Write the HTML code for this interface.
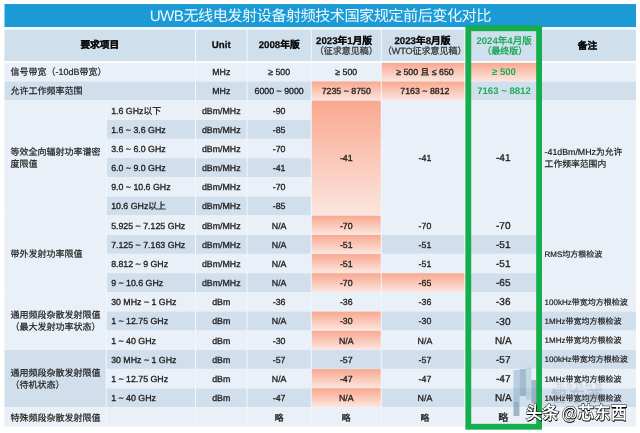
<!DOCTYPE html>
<html lang="zh-CN"><head><meta charset="utf-8"><title>UWB</title>
<style>
html,body{margin:0;padding:0;}
body{width:640px;height:433px;background:#fff;overflow:hidden;position:relative;
 font-family:"Liberation Sans",sans-serif;color:#1c1c1c;text-rendering:geometricPrecision;}
#w{position:absolute;left:0;top:0;width:640px;height:433px;overflow:hidden;filter:blur(0.35px);}
svg{position:absolute;left:0;top:0;}
#t{position:absolute;left:4.5px;top:4px;width:631.5px;height:23.2px;color:#eafaff;
 font-size:15.2px;letter-spacing:-0.55px;line-height:23px;text-align:center;white-space:nowrap;}
#t span{position:relative;left:0px;top:1.4px;}
.c{position:absolute;display:flex;align-items:center;justify-content:center;text-align:center;
 font-size:8.8px;line-height:12px;white-space:nowrap;box-sizing:border-box;overflow:hidden;
 -webkit-text-stroke:0.3px currentColor;}
.c span{position:relative;top:0.45px;}
.c.r12 span{top:-0.4px;}
.c.m span{top:0px;}
.c.h span{top:0.5px;}
.c.l{justify-content:flex-start;text-align:left;padding-left:6px;font-size:9px;-webkit-text-stroke:0.2px currentColor;}
.c.l2{justify-content:flex-start;text-align:left;padding-left:4.4px;}
.c.n{justify-content:flex-start;text-align:left;padding-left:2.6px;font-size:8px;-webkit-text-stroke:0.2px currentColor;}
.c.n1{font-size:8.8px;}
.c.n span{top:1.0px;}
.c.n.m span{top:1.0px;}
.c.n.n1.m span{top:0px;}
.c.b{font-size:10px;}
.c.b span{top:1.5px;left:-1.5px;}
.c.b.m span{top:0.6px;}
.c.au span{left:0.3px;}
.c.h{font-weight:bold;font-size:9.7px;line-height:11px;color:#0c0c0c;-webkit-text-stroke:0.25px currentColor;}
.c.h i{font-style:normal;font-weight:normal;font-size:9px;color:#3a3a3a;-webkit-text-stroke:0.3px currentColor;position:relative;top:0.3px;}
.c.h b.f{position:relative;left:-2.2px;top:0.8px;}
.c.h b.f2{position:relative;left:-0.6px;top:1.0px;}
.c.g{color:#1dac5b;font-weight:bold;font-size:9.6px;-webkit-text-stroke:0;}
.c.h.g i{color:#1aa957;font-weight:bold;-webkit-text-stroke:0;}
.c.g.r12 span{top:0.7px;left:-0.8px;}
.c.r19 span{top:1.3px;}
.c.b.r19 span{top:2.2px;}
.c.h.nt span{left:-1.5px;top:1.2px;}
#wm{position:absolute;left:526.3px;top:401.1px;word-spacing:-2.2px;letter-spacing:0.35px;font-size:16.4px;line-height:24px;color:#fff;white-space:nowrap;font-weight:bold;
 -webkit-text-stroke:1.0px #1a1a1a;paint-order:stroke fill;text-shadow:0.6px 0.7px 0.3px #000;transform:scale(0.985,1.07);transform-origin:0 0;}
#lt1{position:absolute;left:556px;top:381px;font-size:8px;line-height:9px;color:rgba(90,110,130,0.28);letter-spacing:1.6px;white-space:nowrap;}
#lt2{position:absolute;left:551px;top:389px;font-size:16px;line-height:18px;color:rgba(90,110,130,0.25);font-weight:bold;white-space:nowrap;letter-spacing:2px;}
</style></head>
<body>
<div id="w">
<svg width="640" height="433" viewBox="0 0 640 433">
<defs>
<linearGradient id="rg" x1="0" y1="0" x2="0" y2="1"><stop offset="0" stop-color="#f9a88f"/><stop offset="1" stop-color="#fce6e0"/></linearGradient>
<filter id="bl" x="-2%" y="-2%" width="104%" height="104%"><feGaussianBlur stdDeviation="0.5"/></filter>
</defs>
<g filter="url(#bl)">
<rect x="4.5" y="4.05" width="631.5" height="23.15" fill="#1b9ad6"/>
<rect x="4.5" y="27.2" width="631.5" height="2.6" fill="#f4fcff"/>
<rect x="4.5" y="29.8" width="631.5" height="396.5" fill="#f3f7fb"/>
<rect x="4.5" y="60.9" width="631.5" height="2.1" fill="#fafdff"/>
<rect x="4.50" y="29.80" width="190.50" height="31.16" fill="#cfdfec"/>
<rect x="196.00" y="29.80" width="50.50" height="31.16" fill="#cfdfec"/>
<rect x="247.50" y="29.80" width="63.25" height="31.16" fill="#cfdfec"/>
<rect x="311.75" y="29.80" width="69.00" height="31.16" fill="#cfdfec"/>
<rect x="381.75" y="29.80" width="85.75" height="31.16" fill="#cfdfec"/>
<rect x="468.50" y="29.80" width="72.50" height="31.16" fill="#cfdfec"/>
<rect x="542.00" y="29.80" width="94.00" height="31.16" fill="#cfdfec"/>
<rect x="4.50" y="62.91" width="190.50" height="18.27" fill="#e9f0f7"/>
<rect x="196.00" y="62.91" width="50.50" height="18.27" fill="#e9f0f7"/>
<rect x="247.50" y="62.91" width="63.25" height="18.27" fill="#e9f0f7"/>
<rect x="311.75" y="62.91" width="69.00" height="18.27" fill="#e9f0f7"/>
<rect x="381.75" y="62.91" width="85.75" height="18.27" fill="url(#rg)"/>
<rect x="468.50" y="62.91" width="72.50" height="18.27" fill="url(#rg)"/>
<rect x="542.00" y="62.91" width="94.00" height="18.27" fill="#e9f0f7"/>
<rect x="4.50" y="81.48" width="190.50" height="18.87" fill="#d1dfed"/>
<rect x="196.00" y="81.48" width="50.50" height="18.87" fill="#d1dfed"/>
<rect x="247.50" y="81.48" width="63.25" height="18.87" fill="#d1dfed"/>
<rect x="311.75" y="81.48" width="69.00" height="18.87" fill="url(#rg)"/>
<rect x="381.75" y="81.48" width="85.75" height="18.87" fill="url(#rg)"/>
<rect x="468.50" y="81.48" width="72.50" height="18.87" fill="#d1dfed"/>
<rect x="542.00" y="81.48" width="94.00" height="18.87" fill="#d1dfed"/>
<rect x="4.50" y="100.66" width="101.25" height="114.75" fill="#e9f0f7"/>
<rect x="106.75" y="100.66" width="88.25" height="18.88" fill="#e9f0f7"/>
<rect x="196.00" y="100.66" width="50.50" height="18.88" fill="#e9f0f7"/>
<rect x="247.50" y="100.66" width="63.25" height="18.88" fill="#e9f0f7"/>
<rect x="106.75" y="119.84" width="88.25" height="18.88" fill="#d1dfed"/>
<rect x="196.00" y="119.84" width="50.50" height="18.88" fill="#d1dfed"/>
<rect x="247.50" y="119.84" width="63.25" height="18.88" fill="#d1dfed"/>
<rect x="106.75" y="139.01" width="88.25" height="18.87" fill="#e9f0f7"/>
<rect x="196.00" y="139.01" width="50.50" height="18.87" fill="#e9f0f7"/>
<rect x="247.50" y="139.01" width="63.25" height="18.87" fill="#e9f0f7"/>
<rect x="106.75" y="158.19" width="88.25" height="18.88" fill="#d1dfed"/>
<rect x="196.00" y="158.19" width="50.50" height="18.88" fill="#d1dfed"/>
<rect x="247.50" y="158.19" width="63.25" height="18.88" fill="#d1dfed"/>
<rect x="106.75" y="177.36" width="88.25" height="18.87" fill="#e9f0f7"/>
<rect x="196.00" y="177.36" width="50.50" height="18.87" fill="#e9f0f7"/>
<rect x="247.50" y="177.36" width="63.25" height="18.87" fill="#e9f0f7"/>
<rect x="106.75" y="196.53" width="88.25" height="18.88" fill="#d1dfed"/>
<rect x="196.00" y="196.53" width="50.50" height="18.88" fill="#d1dfed"/>
<rect x="247.50" y="196.53" width="63.25" height="18.88" fill="#d1dfed"/>
<rect x="311.75" y="100.66" width="69.00" height="114.75" fill="url(#rg)"/>
<rect x="381.75" y="100.66" width="85.75" height="114.75" fill="#e9f0f7"/>
<rect x="468.50" y="100.66" width="72.50" height="114.75" fill="#e9f0f7"/>
<rect x="542.00" y="100.66" width="94.00" height="114.75" fill="#e9f0f7"/>
<rect x="4.50" y="215.71" width="101.25" height="76.40" fill="#e9f0f7"/>
<rect x="106.75" y="215.71" width="88.25" height="18.88" fill="#e9f0f7"/>
<rect x="196.00" y="215.71" width="50.50" height="18.88" fill="#e9f0f7"/>
<rect x="247.50" y="215.71" width="63.25" height="18.88" fill="#e9f0f7"/>
<rect x="311.75" y="215.71" width="69.00" height="18.88" fill="url(#rg)"/>
<rect x="381.75" y="215.71" width="85.75" height="18.88" fill="#e9f0f7"/>
<rect x="468.50" y="215.71" width="72.50" height="18.88" fill="#e9f0f7"/>
<rect x="106.75" y="234.89" width="88.25" height="18.87" fill="#d1dfed"/>
<rect x="196.00" y="234.89" width="50.50" height="18.87" fill="#d1dfed"/>
<rect x="247.50" y="234.89" width="63.25" height="18.87" fill="#d1dfed"/>
<rect x="311.75" y="234.89" width="69.00" height="18.87" fill="url(#rg)"/>
<rect x="381.75" y="234.89" width="85.75" height="18.87" fill="#d1dfed"/>
<rect x="468.50" y="234.89" width="72.50" height="18.87" fill="#d1dfed"/>
<rect x="106.75" y="254.06" width="88.25" height="18.88" fill="#e9f0f7"/>
<rect x="196.00" y="254.06" width="50.50" height="18.88" fill="#e9f0f7"/>
<rect x="247.50" y="254.06" width="63.25" height="18.88" fill="#e9f0f7"/>
<rect x="311.75" y="254.06" width="69.00" height="18.88" fill="url(#rg)"/>
<rect x="381.75" y="254.06" width="85.75" height="18.88" fill="#e9f0f7"/>
<rect x="468.50" y="254.06" width="72.50" height="18.88" fill="#e9f0f7"/>
<rect x="106.75" y="273.24" width="88.25" height="18.88" fill="#d1dfed"/>
<rect x="196.00" y="273.24" width="50.50" height="18.88" fill="#d1dfed"/>
<rect x="247.50" y="273.24" width="63.25" height="18.88" fill="#d1dfed"/>
<rect x="311.75" y="273.24" width="69.00" height="18.88" fill="url(#rg)"/>
<rect x="381.75" y="273.24" width="85.75" height="18.88" fill="url(#rg)"/>
<rect x="468.50" y="273.24" width="72.50" height="18.88" fill="#d1dfed"/>
<rect x="542.00" y="215.71" width="94.00" height="76.40" fill="#e9f0f7"/>
<rect x="4.50" y="292.41" width="101.25" height="57.23" fill="#e9f0f7"/>
<rect x="106.75" y="292.41" width="88.25" height="18.88" fill="#e9f0f7"/>
<rect x="196.00" y="292.41" width="50.50" height="18.88" fill="#e9f0f7"/>
<rect x="247.50" y="292.41" width="63.25" height="18.88" fill="#e9f0f7"/>
<rect x="311.75" y="292.41" width="69.00" height="18.88" fill="#e9f0f7"/>
<rect x="381.75" y="292.41" width="85.75" height="18.88" fill="#e9f0f7"/>
<rect x="468.50" y="292.41" width="72.50" height="18.88" fill="#e9f0f7"/>
<rect x="542.00" y="292.41" width="94.00" height="18.88" fill="#e9f0f7"/>
<rect x="106.75" y="311.58" width="88.25" height="18.88" fill="#d1dfed"/>
<rect x="196.00" y="311.58" width="50.50" height="18.88" fill="#d1dfed"/>
<rect x="247.50" y="311.58" width="63.25" height="18.88" fill="#d1dfed"/>
<rect x="311.75" y="311.58" width="69.00" height="18.88" fill="url(#rg)"/>
<rect x="381.75" y="311.58" width="85.75" height="18.88" fill="#d1dfed"/>
<rect x="468.50" y="311.58" width="72.50" height="18.88" fill="#d1dfed"/>
<rect x="542.00" y="311.58" width="94.00" height="18.88" fill="#d1dfed"/>
<rect x="106.75" y="330.76" width="88.25" height="18.88" fill="#e9f0f7"/>
<rect x="196.00" y="330.76" width="50.50" height="18.88" fill="#e9f0f7"/>
<rect x="247.50" y="330.76" width="63.25" height="18.88" fill="#e9f0f7"/>
<rect x="311.75" y="330.76" width="69.00" height="18.88" fill="url(#rg)"/>
<rect x="381.75" y="330.76" width="85.75" height="18.88" fill="#e9f0f7"/>
<rect x="468.50" y="330.76" width="72.50" height="18.88" fill="#e9f0f7"/>
<rect x="542.00" y="330.76" width="94.00" height="18.88" fill="#e9f0f7"/>
<rect x="4.50" y="349.93" width="101.25" height="57.23" fill="#d1dfed"/>
<rect x="106.75" y="349.93" width="88.25" height="18.88" fill="#d1dfed"/>
<rect x="196.00" y="349.93" width="50.50" height="18.88" fill="#d1dfed"/>
<rect x="247.50" y="349.93" width="63.25" height="18.88" fill="#d1dfed"/>
<rect x="311.75" y="349.93" width="69.00" height="18.88" fill="#d1dfed"/>
<rect x="381.75" y="349.93" width="85.75" height="18.88" fill="#d1dfed"/>
<rect x="468.50" y="349.93" width="72.50" height="18.88" fill="#d1dfed"/>
<rect x="542.00" y="349.93" width="94.00" height="18.88" fill="#d1dfed"/>
<rect x="106.75" y="369.11" width="88.25" height="18.88" fill="#e9f0f7"/>
<rect x="196.00" y="369.11" width="50.50" height="18.88" fill="#e9f0f7"/>
<rect x="247.50" y="369.11" width="63.25" height="18.88" fill="#e9f0f7"/>
<rect x="311.75" y="369.11" width="69.00" height="18.88" fill="url(#rg)"/>
<rect x="381.75" y="369.11" width="85.75" height="18.88" fill="#e9f0f7"/>
<rect x="468.50" y="369.11" width="72.50" height="18.88" fill="#e9f0f7"/>
<rect x="542.00" y="369.11" width="94.00" height="18.88" fill="#e9f0f7"/>
<rect x="106.75" y="388.28" width="88.25" height="18.88" fill="#d1dfed"/>
<rect x="196.00" y="388.28" width="50.50" height="18.88" fill="#d1dfed"/>
<rect x="247.50" y="388.28" width="63.25" height="18.88" fill="#d1dfed"/>
<rect x="311.75" y="388.28" width="69.00" height="18.88" fill="url(#rg)"/>
<rect x="381.75" y="388.28" width="85.75" height="18.88" fill="#d1dfed"/>
<rect x="468.50" y="388.28" width="72.50" height="18.88" fill="#d1dfed"/>
<rect x="542.00" y="388.28" width="94.00" height="18.88" fill="#d1dfed"/>
<rect x="4.50" y="407.46" width="101.25" height="19.02" fill="#e9f0f7"/>
<rect x="106.75" y="407.46" width="88.25" height="19.02" fill="#e9f0f7"/>
<rect x="196.00" y="407.46" width="50.50" height="19.02" fill="#e9f0f7"/>
<rect x="247.50" y="407.46" width="63.25" height="19.02" fill="#e9f0f7"/>
<rect x="311.75" y="407.46" width="69.00" height="19.02" fill="#e9f0f7"/>
<rect x="381.75" y="407.46" width="85.75" height="19.02" fill="#e9f0f7"/>
<rect x="468.50" y="407.46" width="72.50" height="19.02" fill="#e9f0f7"/>
<rect x="542.00" y="407.46" width="94.00" height="19.02" fill="#e9f0f7"/>
</g>
</svg>
<div id="t"><span>UWB无线电发射设备射频技术国家规定前后变化对比</span></div>
<div class="c h" style="left:4.50px;top:29.80px;width:190.50px;height:31.16px;"><span>要求项目</span></div>
<div class="c h" style="left:196.00px;top:29.80px;width:50.50px;height:31.16px;"><span>Unit</span></div>
<div class="c h" style="left:247.50px;top:29.80px;width:63.25px;height:31.16px;"><span>2008年版</span></div>
<div class="c h" style="left:311.75px;top:29.80px;width:69.00px;height:31.16px;"><span><b class="f">2023年1月版</b><br><i>（征求意见稿）</i></span></div>
<div class="c h" style="left:381.75px;top:29.80px;width:85.75px;height:31.16px;"><span><b class="f">2023年8月版</b><br><i>（WTO征求意见稿）</i></span></div>
<div class="c h g" style="left:468.50px;top:29.80px;width:72.50px;height:31.16px;"><span><b class="f2">2024年4月版</b><br><i>（最终版）</i></span></div>
<div class="c h nt" style="left:542.00px;top:29.80px;width:94.00px;height:31.16px;"><span>备注</span></div>
<div class="c l r12" style="left:4.50px;top:62.91px;width:190.50px;height:18.27px;"><span>信号带宽（-10dB带宽）</span></div>
<div class="c r12" style="left:196.00px;top:62.91px;width:50.50px;height:18.27px;"><span>MHz</span></div>
<div class="c r12" style="left:247.50px;top:62.91px;width:63.25px;height:18.27px;"><span>≥ 500</span></div>
<div class="c r12" style="left:311.75px;top:62.91px;width:69.00px;height:18.27px;"><span>≥ 500</span></div>
<div class="c au r12" style="left:381.75px;top:62.91px;width:85.75px;height:18.27px;"><span>≥ 500 且 ≤ 650</span></div>
<div class="c g r12" style="left:468.50px;top:62.91px;width:72.50px;height:18.27px;"><span>≥ 500</span></div>
<div class="c l r12" style="left:4.50px;top:81.48px;width:190.50px;height:18.87px;"><span>允许工作频率范围</span></div>
<div class="c r12" style="left:196.00px;top:81.48px;width:50.50px;height:18.87px;"><span>MHz</span></div>
<div class="c r12" style="left:247.50px;top:81.48px;width:63.25px;height:18.87px;"><span>6000 ~ 9000</span></div>
<div class="c r12" style="left:311.75px;top:81.48px;width:69.00px;height:18.87px;"><span>7235 ~ 8750</span></div>
<div class="c au r12" style="left:381.75px;top:81.48px;width:85.75px;height:18.87px;"><span>7163 ~ 8812</span></div>
<div class="c g r12" style="left:468.50px;top:81.48px;width:72.50px;height:18.87px;"><span>7163 ~ 8812</span></div>
<div class="c l m" style="left:4.50px;top:100.66px;width:101.25px;height:114.75px;"><span>等效全向辐射功率谱密<br>度限值</span></div>
<div class="c l2" style="left:106.75px;top:100.66px;width:88.25px;height:18.88px;"><span>1.6 GHz以下</span></div>
<div class="c " style="left:196.00px;top:100.66px;width:50.50px;height:18.88px;"><span>dBm/MHz</span></div>
<div class="c " style="left:247.50px;top:100.66px;width:63.25px;height:18.88px;"><span>-90</span></div>
<div class="c l2" style="left:106.75px;top:119.84px;width:88.25px;height:18.88px;"><span>1.6 ~ 3.6 GHz</span></div>
<div class="c " style="left:196.00px;top:119.84px;width:50.50px;height:18.88px;"><span>dBm/MHz</span></div>
<div class="c " style="left:247.50px;top:119.84px;width:63.25px;height:18.88px;"><span>-85</span></div>
<div class="c l2" style="left:106.75px;top:139.01px;width:88.25px;height:18.87px;"><span>3.6 ~ 6.0 GHz</span></div>
<div class="c " style="left:196.00px;top:139.01px;width:50.50px;height:18.87px;"><span>dBm/MHz</span></div>
<div class="c " style="left:247.50px;top:139.01px;width:63.25px;height:18.87px;"><span>-70</span></div>
<div class="c l2" style="left:106.75px;top:158.19px;width:88.25px;height:18.88px;"><span>6.0 ~ 9.0 GHz</span></div>
<div class="c " style="left:196.00px;top:158.19px;width:50.50px;height:18.88px;"><span>dBm/MHz</span></div>
<div class="c " style="left:247.50px;top:158.19px;width:63.25px;height:18.88px;"><span>-41</span></div>
<div class="c l2" style="left:106.75px;top:177.36px;width:88.25px;height:18.87px;"><span>9.0 ~ 10.6 GHz</span></div>
<div class="c " style="left:196.00px;top:177.36px;width:50.50px;height:18.87px;"><span>dBm/MHz</span></div>
<div class="c " style="left:247.50px;top:177.36px;width:63.25px;height:18.87px;"><span>-70</span></div>
<div class="c l2" style="left:106.75px;top:196.53px;width:88.25px;height:18.88px;"><span>10.6 GHz以上</span></div>
<div class="c " style="left:196.00px;top:196.53px;width:50.50px;height:18.88px;"><span>dBm/MHz</span></div>
<div class="c " style="left:247.50px;top:196.53px;width:63.25px;height:18.88px;"><span>-85</span></div>
<div class="c m" style="left:311.75px;top:100.66px;width:69.00px;height:114.75px;"><span>-41</span></div>
<div class="c au m" style="left:381.75px;top:100.66px;width:85.75px;height:114.75px;"><span>-41</span></div>
<div class="c b m" style="left:468.50px;top:100.66px;width:72.50px;height:114.75px;"><span>-41</span></div>
<div class="c n n1 m" style="left:542.00px;top:100.66px;width:94.00px;height:114.75px;"><span>-41dBm/MHz为允许<br>工作频率范围内</span></div>
<div class="c l m" style="left:4.50px;top:215.71px;width:101.25px;height:76.40px;"><span>带外发射功率限值</span></div>
<div class="c l2" style="left:106.75px;top:215.71px;width:88.25px;height:18.88px;"><span>5.925 ~ 7.125 GHz</span></div>
<div class="c " style="left:196.00px;top:215.71px;width:50.50px;height:18.88px;"><span>dBm/MHz</span></div>
<div class="c " style="left:247.50px;top:215.71px;width:63.25px;height:18.88px;"><span>N/A</span></div>
<div class="c " style="left:311.75px;top:215.71px;width:69.00px;height:18.88px;"><span>-70</span></div>
<div class="c au" style="left:381.75px;top:215.71px;width:85.75px;height:18.88px;"><span>-70</span></div>
<div class="c b" style="left:468.50px;top:215.71px;width:72.50px;height:18.88px;"><span>-70</span></div>
<div class="c l2" style="left:106.75px;top:234.89px;width:88.25px;height:18.87px;"><span>7.125 ~ 7.163 GHz</span></div>
<div class="c " style="left:196.00px;top:234.89px;width:50.50px;height:18.87px;"><span>dBm/MHz</span></div>
<div class="c " style="left:247.50px;top:234.89px;width:63.25px;height:18.87px;"><span>N/A</span></div>
<div class="c " style="left:311.75px;top:234.89px;width:69.00px;height:18.87px;"><span>-51</span></div>
<div class="c au" style="left:381.75px;top:234.89px;width:85.75px;height:18.87px;"><span>-51</span></div>
<div class="c b" style="left:468.50px;top:234.89px;width:72.50px;height:18.87px;"><span>-51</span></div>
<div class="c l2" style="left:106.75px;top:254.06px;width:88.25px;height:18.88px;"><span>8.812 ~ 9 GHz</span></div>
<div class="c " style="left:196.00px;top:254.06px;width:50.50px;height:18.88px;"><span>dBm/MHz</span></div>
<div class="c " style="left:247.50px;top:254.06px;width:63.25px;height:18.88px;"><span>N/A</span></div>
<div class="c " style="left:311.75px;top:254.06px;width:69.00px;height:18.88px;"><span>-51</span></div>
<div class="c au" style="left:381.75px;top:254.06px;width:85.75px;height:18.88px;"><span>-51</span></div>
<div class="c b" style="left:468.50px;top:254.06px;width:72.50px;height:18.88px;"><span>-51</span></div>
<div class="c l2" style="left:106.75px;top:273.24px;width:88.25px;height:18.88px;"><span>9 ~ 10.6 GHz</span></div>
<div class="c " style="left:196.00px;top:273.24px;width:50.50px;height:18.88px;"><span>dBm/MHz</span></div>
<div class="c " style="left:247.50px;top:273.24px;width:63.25px;height:18.88px;"><span>N/A</span></div>
<div class="c " style="left:311.75px;top:273.24px;width:69.00px;height:18.88px;"><span>-70</span></div>
<div class="c au" style="left:381.75px;top:273.24px;width:85.75px;height:18.88px;"><span>-65</span></div>
<div class="c b" style="left:468.50px;top:273.24px;width:72.50px;height:18.88px;"><span>-65</span></div>
<div class="c n m" style="left:542.00px;top:215.71px;width:94.00px;height:76.40px;"><span>RMS均方根检波</span></div>
<div class="c l m" style="left:4.50px;top:292.41px;width:101.25px;height:57.23px;"><span>通用频段杂散发射限值<br>（最大发射功率状态）</span></div>
<div class="c l2" style="left:106.75px;top:292.41px;width:88.25px;height:18.88px;"><span>30 MHz ~ 1 GHz</span></div>
<div class="c " style="left:196.00px;top:292.41px;width:50.50px;height:18.88px;"><span>dBm</span></div>
<div class="c " style="left:247.50px;top:292.41px;width:63.25px;height:18.88px;"><span>-36</span></div>
<div class="c " style="left:311.75px;top:292.41px;width:69.00px;height:18.88px;"><span>-36</span></div>
<div class="c au" style="left:381.75px;top:292.41px;width:85.75px;height:18.88px;"><span>-36</span></div>
<div class="c b" style="left:468.50px;top:292.41px;width:72.50px;height:18.88px;"><span>-36</span></div>
<div class="c n" style="left:542.00px;top:292.41px;width:94.00px;height:18.88px;"><span>100kHz带宽均方根检波</span></div>
<div class="c l2" style="left:106.75px;top:311.58px;width:88.25px;height:18.88px;"><span>1 ~ 12.75 GHz</span></div>
<div class="c " style="left:196.00px;top:311.58px;width:50.50px;height:18.88px;"><span>dBm</span></div>
<div class="c " style="left:247.50px;top:311.58px;width:63.25px;height:18.88px;"><span>N/A</span></div>
<div class="c " style="left:311.75px;top:311.58px;width:69.00px;height:18.88px;"><span>-30</span></div>
<div class="c au" style="left:381.75px;top:311.58px;width:85.75px;height:18.88px;"><span>-30</span></div>
<div class="c b" style="left:468.50px;top:311.58px;width:72.50px;height:18.88px;"><span>-30</span></div>
<div class="c n" style="left:542.00px;top:311.58px;width:94.00px;height:18.88px;"><span>1MHz带宽均方根检波</span></div>
<div class="c l2" style="left:106.75px;top:330.76px;width:88.25px;height:18.88px;"><span>1 ~ 40 GHz</span></div>
<div class="c " style="left:196.00px;top:330.76px;width:50.50px;height:18.88px;"><span>dBm</span></div>
<div class="c " style="left:247.50px;top:330.76px;width:63.25px;height:18.88px;"><span>-30</span></div>
<div class="c " style="left:311.75px;top:330.76px;width:69.00px;height:18.88px;"><span>N/A</span></div>
<div class="c au" style="left:381.75px;top:330.76px;width:85.75px;height:18.88px;"><span>N/A</span></div>
<div class="c b" style="left:468.50px;top:330.76px;width:72.50px;height:18.88px;"><span>N/A</span></div>
<div class="c n" style="left:542.00px;top:330.76px;width:94.00px;height:18.88px;"><span>1MHz带宽均方根检波</span></div>
<div class="c l m" style="left:4.50px;top:349.93px;width:101.25px;height:57.23px;"><span>通用频段杂散发射限值<br>（待机状态）</span></div>
<div class="c l2" style="left:106.75px;top:349.93px;width:88.25px;height:18.88px;"><span>30 MHz ~ 1 GHz</span></div>
<div class="c " style="left:196.00px;top:349.93px;width:50.50px;height:18.88px;"><span>dBm</span></div>
<div class="c " style="left:247.50px;top:349.93px;width:63.25px;height:18.88px;"><span>-57</span></div>
<div class="c " style="left:311.75px;top:349.93px;width:69.00px;height:18.88px;"><span>-57</span></div>
<div class="c au" style="left:381.75px;top:349.93px;width:85.75px;height:18.88px;"><span>-57</span></div>
<div class="c b" style="left:468.50px;top:349.93px;width:72.50px;height:18.88px;"><span>-57</span></div>
<div class="c n" style="left:542.00px;top:349.93px;width:94.00px;height:18.88px;"><span>100kHz带宽均方根检波</span></div>
<div class="c l2" style="left:106.75px;top:369.11px;width:88.25px;height:18.88px;"><span>1 ~ 12.75 GHz</span></div>
<div class="c " style="left:196.00px;top:369.11px;width:50.50px;height:18.88px;"><span>dBm</span></div>
<div class="c " style="left:247.50px;top:369.11px;width:63.25px;height:18.88px;"><span>N/A</span></div>
<div class="c " style="left:311.75px;top:369.11px;width:69.00px;height:18.88px;"><span>-47</span></div>
<div class="c au" style="left:381.75px;top:369.11px;width:85.75px;height:18.88px;"><span>-47</span></div>
<div class="c b" style="left:468.50px;top:369.11px;width:72.50px;height:18.88px;"><span>-47</span></div>
<div class="c n" style="left:542.00px;top:369.11px;width:94.00px;height:18.88px;"><span>1MHz带宽均方根检波</span></div>
<div class="c l2" style="left:106.75px;top:388.28px;width:88.25px;height:18.88px;"><span>1 ~ 40 GHz</span></div>
<div class="c " style="left:196.00px;top:388.28px;width:50.50px;height:18.88px;"><span>dBm</span></div>
<div class="c " style="left:247.50px;top:388.28px;width:63.25px;height:18.88px;"><span>-47</span></div>
<div class="c " style="left:311.75px;top:388.28px;width:69.00px;height:18.88px;"><span>N/A</span></div>
<div class="c au" style="left:381.75px;top:388.28px;width:85.75px;height:18.88px;"><span>N/A</span></div>
<div class="c b" style="left:468.50px;top:388.28px;width:72.50px;height:18.88px;"><span>N/A</span></div>
<div class="c n" style="left:542.00px;top:388.28px;width:94.00px;height:18.88px;"><span>1MHz带宽均方根检波</span></div>
<div class="c l r19" style="left:4.50px;top:407.46px;width:101.25px;height:19.02px;"><span>特殊频段杂散发射限值</span></div>
<div class="c r19" style="left:247.50px;top:407.46px;width:63.25px;height:19.02px;"><span>略</span></div>
<div class="c r19" style="left:311.75px;top:407.46px;width:69.00px;height:19.02px;"><span>略</span></div>
<div class="c au r19" style="left:381.75px;top:407.46px;width:85.75px;height:19.02px;"><span>略</span></div>
<div class="c b r19" style="left:468.50px;top:407.46px;width:72.50px;height:19.02px;"><span>略</span></div>
<svg width="640" height="433" viewBox="0 0 640 433">
<defs><filter id="bl2" x="-5%" y="-2%" width="110%" height="104%"><feGaussianBlur stdDeviation="0.5"/></filter></defs>
<g filter="url(#bl2)">
<rect x="464.3" y="29.8" width="1.1" height="396.3" fill="#f5f9fc"/>
<rect x="468.3" y="28.25" width="70.8" height="398.5" fill="none" stroke="#13ad4e" stroke-width="5.8"/>
<rect x="513.5" y="370" width="6.2" height="46" fill="rgba(120,160,190,0.42)"/>
<rect x="519.7" y="369" width="6.3" height="27" fill="rgba(95,135,170,0.5)"/>
<rect x="526" y="367.5" width="5.4" height="32" fill="rgba(140,175,200,0.38)"/>
<rect x="531.4" y="380" width="5" height="23" fill="rgba(95,125,155,0.5)"/>
<rect x="513.5" y="402" width="5.5" height="14" fill="rgba(95,125,155,0.3)"/>
</g>
</svg>
<div id="lt1">知东西科技</div>
<div id="lt2">智东西</div>
<div id="wm">头条 @芯东西</div>
</div>
</body></html>
